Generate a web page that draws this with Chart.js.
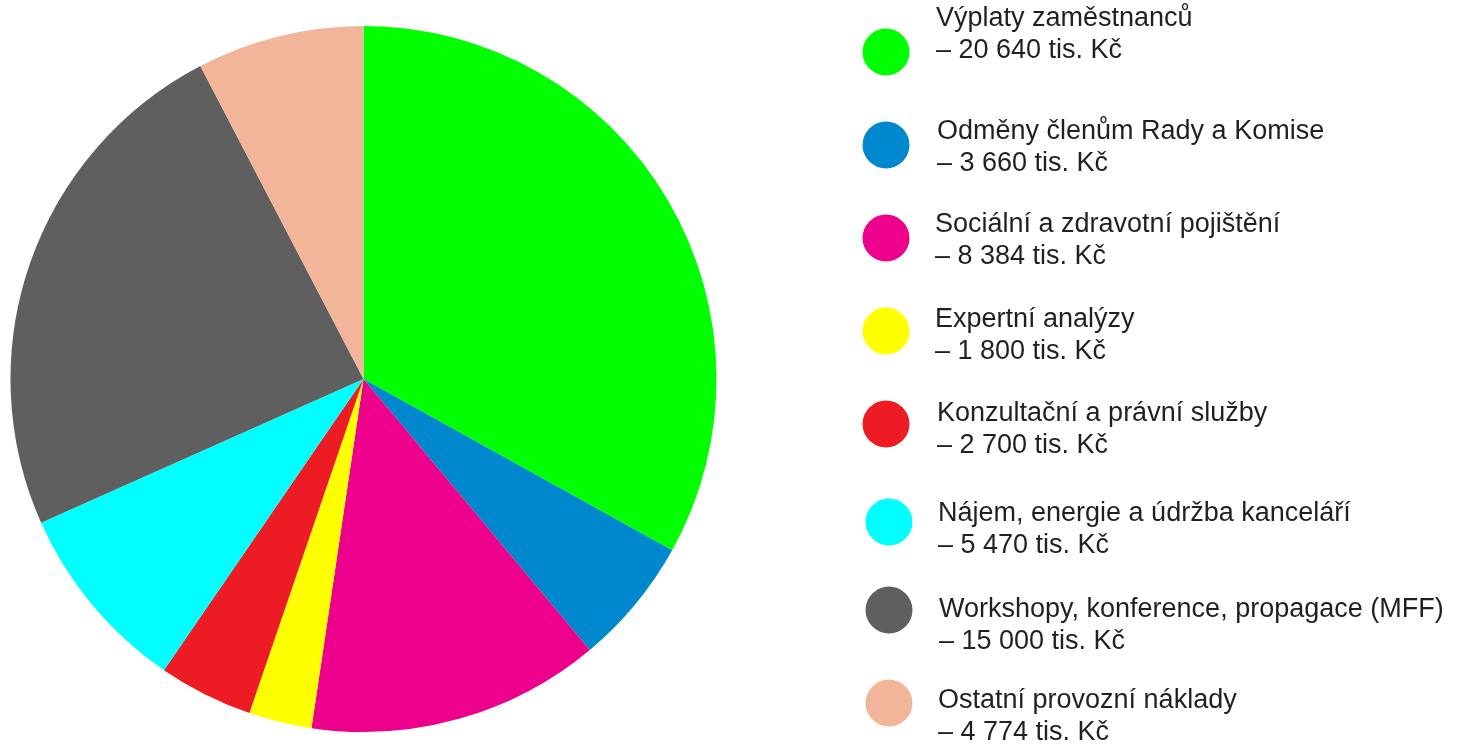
<!DOCTYPE html>
<html>
<head>
<meta charset="utf-8">
<script src="https://cdn.jsdelivr.net/npm/chart.js@4.4.0/dist/chart.umd.min.js"></script>
<style>
  html, body { margin: 0; padding: 0; background: #fff; }
  #wrap { width: 1458px; height: 745px; }
</style>
</head>
<body>
<div id="wrap"><canvas id="myChart" width="1458" height="745"></canvas></div>
<script>
let labels = [
  "Výplaty zaměstnanců",
  "Odměny členům Rady a Komise",
  "Sociální a zdravotní pojištění",
  "Expertní analýzy",
  "Konzultační a právní služby",
  "Nájem, energie a údržba kanceláří",
  "Workshopy, konference, propagace (MFF)",
  "Ostatní provozní náklady"
];
let values = [20640, 3660, 8384, 1800, 2700, 5470, 15000, 4774];
let valueTexts = [
  "– 20 640 tis. Kč",
  "– 3 660 tis. Kč",
  "– 8 384 tis. Kč",
  "– 1 800 tis. Kč",
  "– 2 700 tis. Kč",
  "– 5 470 tis. Kč",
  "– 15 000 tis. Kč",
  "– 4 774 tis. Kč"
];
let sliceColors = ["#00FF00", "#0088CF", "#EC008C", "#FFFF00", "#ED1C24", "#00FFFF", "#5F5F5F", "#F2B59A"];

// legend drawn by hand: dot on the left, two lines of text beside it.
// the original legend isn't on a strict grid, so positions are listed per row
const sideLegend = {
  id: 'sideLegend',
  afterDraw(chart) {
    const ctx = chart.ctx;
    const dotX = [886, 886, 886, 886, 886, 889, 889, 889];
    const dotY = [52, 145, 238, 331, 424, 522, 610, 703];
    const textX = [936, 937, 935, 935, 937, 938, 939, 938];
    const baseY = [26, 139, 232, 327, 421, 521, 617, 708];
    ctx.save();
    ctx.font = '27px "Liberation Sans", Arial, sans-serif';
    ctx.textBaseline = 'alphabetic';
    ctx.textAlign = 'left';
    labels.forEach((label, i) => {
      ctx.beginPath();
      ctx.fillStyle = sliceColors[i];
      ctx.arc(dotX[i], dotY[i], 23.5, 0, Math.PI * 2);
      ctx.fill();
      ctx.fillStyle = '#231F20';
      ctx.fillText(label, textX[i], baseY[i]);
      ctx.fillText(valueTexts[i], textX[i], baseY[i] + 32);
    });
    ctx.restore();
  }
};

new Chart("myChart", {
  type: "pie",
  data: {
    labels: labels,
    datasets: [{
      data: values,
      backgroundColor: sliceColors,
      borderWidth: 0
    }]
  },
  options: {
    responsive: false,
    animation: false,
    layout: {
      padding: { left: 10, right: 741, top: 26, bottom: 13 }
    },
    plugins: {
      legend: { display: false },
      tooltip: { enabled: false }
    }
  },
  plugins: [sideLegend]
});
</script>
</body>
</html>
